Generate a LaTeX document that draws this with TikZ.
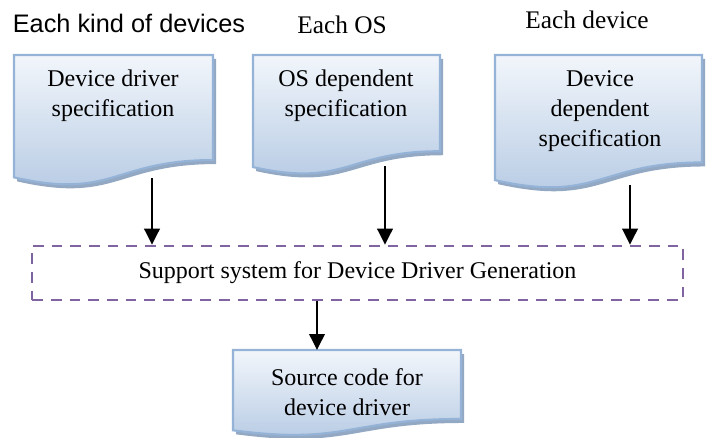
\documentclass[tikz,border=0pt]{standalone}
\usepackage{fontspec}
\setmainfont{Liberation Serif}
\newfontfamily\arialfont{Liberation Sans}
\usetikzlibrary{positioning,arrows.meta}

\definecolor{docborder}{HTML}{95B3D7}
\definecolor{doctop}{HTML}{F2F6FB}
\definecolor{docbottom}{HTML}{B4C9E3}
\definecolor{docshadow}{HTML}{93A8C3}
\definecolor{suppurple}{HTML}{8064A2}

% left, right, top, height of a document shape
\newcommand{\docpath}[4]{(#1,#3) -- (#2,#3) -- (#2,{#3+0.802*#4})
  .. controls ({(#1+#2)/2},{#3+0.802*#4}) and ({(#1+#2)/2},{#3+1.107*#4}) .. (#1,{#3+0.934*#4}) -- cycle}
\newcommand{\docshape}[4]{%
  \fill[docshadow, shift={(3,4)}] \docpath{#1}{#2}{#3}{#4};
  \draw[docbody] \docpath{#1}{#2}{#3}{#4};
}

\begin{document}
\begin{tikzpicture}[x=0.75pt, y=-0.75pt,
    docbody/.style={draw=docborder, line width=1.6pt, top color=doctop, bottom color=docbottom},
    doctext/.style={align=center, inner sep=0pt, font=\fontsize{18}{22.5}\selectfont},
    header/.style={inner sep=0pt, font=\fontsize{19}{22}\selectfont},
    arr/.style={-{Triangle[length=12pt, width=11.5pt]}, line width=1.9pt}]
    \useasboundingbox (0,0) rectangle (709,438);

    \node[header, font=\arialfont\fontsize{19}{22}\selectfont] (kindlbl) at (129,23) {Each kind of devices};
    \node[header] (oslbl) at (342,25) {Each OS};
    \node[header] (devlbl) at (587,20) {Each device};

    \docshape{14}{213}{55}{131}
    \docshape{253}{440}{55}{120}
    \docshape{495}{702}{55}{134}
    \docshape{233}{461}{350}{86}

    \node[doctext] (ddspec) at (113,96) {Device driver\\specification};
    \node[doctext] (osspec) at (346,96) {OS dependent\\specification};
    \node[doctext] (devspec) at (600,111) {Device\\dependent\\specification};
    \node[doctext] (srccode) at (347,392) {Source code for\\device driver};

    \node[draw=suppurple, line width=1.9pt, dash pattern=on 8pt off 6pt,
          minimum width=488pt, minimum height=40.5pt, font=\fontsize{18}{22.5}\selectfont]
          (support) at (357.5,273) {Support system for Device Driver Generation};

    \coordinate (ddout) at (152,178);
    \coordinate (osout) at (385,166);
    \coordinate (devout) at (630,185);
    \coordinate (srcin) at (317,350);

    \draw[arr] (ddout) -- (ddout |- support.north);
    \draw[arr] (osout) -- (osout |- support.north);
    \draw[arr] (devout) -- (devout |- support.north);
    \draw[arr] (srcin |- support.south) -- (srcin);
\end{tikzpicture}
\end{document}
